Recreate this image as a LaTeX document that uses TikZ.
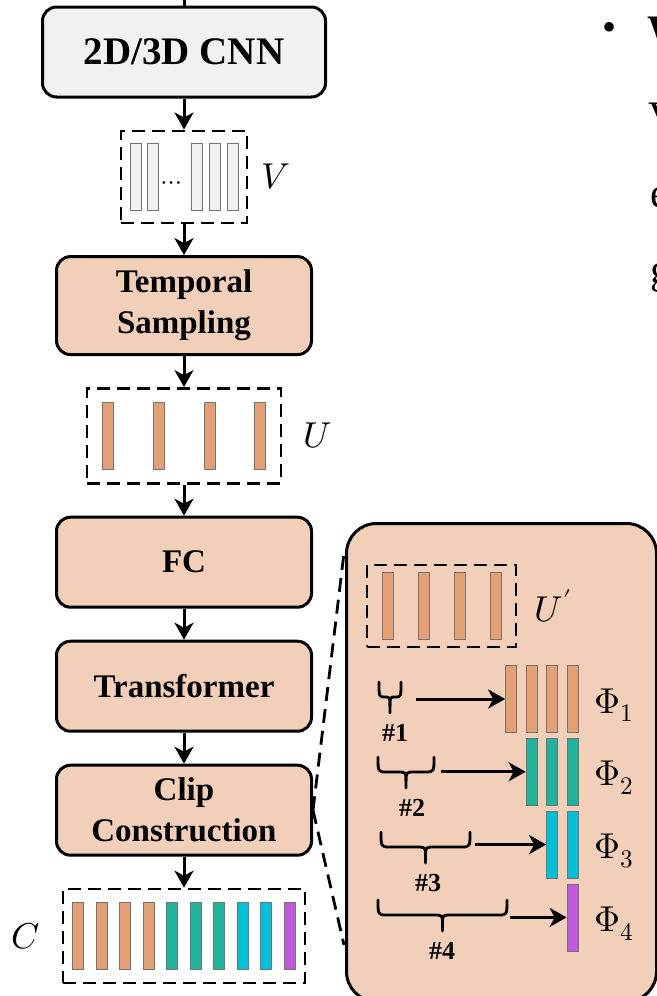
\documentclass[tikz,border=0pt]{standalone}
\usepackage{fontspec}
\usepackage{unicode-math}
\setmainfont{Liberation Serif}
\setmathfont{Latin Modern Math}
\usetikzlibrary{positioning,arrows.meta}

\definecolor{peach}{RGB}{242,207,185}
\definecolor{cnngray}{RGB}{241,241,241}
\definecolor{barorange}{RGB}{228,160,114}
\definecolor{barteal}{RGB}{30,180,155}
\definecolor{barcyan}{RGB}{0,192,218}
\definecolor{barpurple}{RGB}{192,88,220}

\tikzset{
  block/.style={draw, line width=3pt, rounded corners=14pt, fill=peach,
    minimum width=255pt, minimum height=90pt, align=center,
    font=\bfseries\fontsize{33}{41}\selectfont},
  featbox/.style={draw, line width=2.6pt, dash pattern=on 13pt off 7pt},
  bar/.style={draw=black!55, line width=0.7pt, minimum width=11pt,
    minimum height=67pt, inner sep=0pt},
  flow/.style={-{Stealth[length=17pt,width=19pt,inset=5pt]}, line width=3pt},
  zoomline/.style={line width=2.8pt, dash pattern=on 14pt off 8pt},
  bracepath/.style={line width=2.8pt, line cap=round},
  lbl/.style={font=\fontsize{36}{40}\selectfont},
  hashlbl/.style={font=\bfseries\fontsize{26}{26}\selectfont, inner sep=0pt}
}

% downward curly brace over a group of clips
\newcommand{\groupbrace}[3]{%
  \pgfmathsetmacro\bmid{(#1+#2)/2}%
  \pgfmathsetmacro\brad{min(9,(#2-#1)/4)}%
  \draw[bracepath] (#1,#3) .. controls (#1,#3+15) .. (#1+\brad,#3+15)
    -- (\bmid-\brad,#3+15) .. controls (\bmid,#3+15) .. (\bmid,#3+24) -- (\bmid,#3+31);
  \draw[bracepath] (#2,#3) .. controls (#2,#3+15) .. (#2-\brad,#3+15)
    -- (\bmid+\brad,#3+15) .. controls (\bmid,#3+15) .. (\bmid,#3+24);
}

\begin{document}
\begin{tikzpicture}[x=1pt, y=-1pt, node distance=31pt]
\useasboundingbox (0,0) rectangle (656,996);

% main pipeline
\node[block, fill=cnngray, minimum width=283pt,
  font=\bfseries\fontsize{39}{45}\selectfont] (cnn) at (184,52) {2D/3D CNN};
\node[featbox, minimum width=126pt, minimum height=92pt, below=of cnn] (vfeat) {};
\node[block, minimum height=98pt, below=of vfeat] (tsamp) {Temporal\\Sampling};
\node[featbox, minimum width=194pt, minimum height=95pt, below=of tsamp] (ufeat) {};
\node[block, below=of ufeat] (fc) {FC};
\node[block, below=of fc] (trans) {Transformer};
\node[block, below=of trans] (clip) {Clip\\Construction};
\node[featbox, minimum width=242pt, minimum height=94pt, below=of clip] (cfeat) {};

\coordinate (input) at (184,-10);
\draw[line width=3pt] (input) -- (cnn.north);
\draw[flow] (cnn.south) -- (vfeat.north);
\draw[flow] (vfeat.south) -- (tsamp.north);
\draw[flow] (tsamp.south) -- (ufeat.north);
\draw[flow] (ufeat.south) -- (fc.north);
\draw[flow] (fc.south) -- (trans.north);
\draw[flow] (trans.south) -- (clip.north);
\draw[flow] (clip.south) -- (cfeat.north);

% feature bars
\foreach \dx in {-48.5,-31.5,12.5,30.5,48.5}
  \node[bar, fill=cnngray] at ([xshift=\dx pt]vfeat.center) {};
\node[font=\fontsize{26}{26}\selectfont, inner sep=0pt] (vdots) at ([xshift=-12pt,yshift=-9pt]vfeat.center) {$\cdots$};
\foreach \dx in {-76,-25.5,25.5,76}
  \node[bar, fill=barorange] at ([xshift=\dx pt]ufeat.center) {};
\foreach \clr [count=\i from 0] in {barorange,barorange,barorange,barorange,
    barteal,barteal,barteal,barcyan,barcyan,barpurple}
  \node[bar, fill=\clr] at ([xshift={-105.75+23.5*\i}]cfeat.center) {};

\node[lbl, right=10pt of vfeat] (vlab) {$V$};
\node[lbl, right=18pt of ufeat] (ulab) {$U$};
\node[lbl, left=18pt of cfeat] (clab) {$C$};

% zoomed view of clip construction
\node[draw, line width=3pt, rounded corners=30pt, fill=peach, anchor=north west,
  minimum width=310pt, minimum height=478pt] (zoompanel) at (345,522) {};
\coordinate (ztop) at (344,553);
\coordinate (zbot) at (344,945);
\draw[zoomline] (clip.east) -- (ztop);
\draw[zoomline] (clip.east) -- (zbot);

\node[featbox, minimum width=149pt, minimum height=82pt] (upfeat) at (441.5,606) {};
\foreach \dx in {-54,-18,18,54}
  \node[bar, fill=barorange] at ([xshift=\dx pt]upfeat.center) {};
\node[lbl, right=14pt of upfeat] (uplab) {$U'$};

\foreach \row/\clr in {1/barorange,2/barteal,3/barcyan,4/barpurple} {
  \foreach \col in {\row,...,4}
    \node[bar, fill=\clr] (bar-\row-\col) at ({490.5+20.5*\col},{699+72.8*(\row-1)}) {};
  \node[lbl, anchor=base west] (phi\row) at (591,{713+72.8*(\row-1)}) {$\Phi_{\row}$};
}

\foreach \xa/\xb/\yt/\hx/\sx/\k in {379/401/682/395/416/1, 378/434/757/412/441/2,
    381/470/832/428/475/3, 378/507/900/442/510/4} {
  \groupbrace{\xa}{\xb}{\yt}
  \node[hashlbl] (hash\k) at (\hx,\yt+51) {\#\k};
  \coordinate (gap\k) at (\sx,{699+72.8*(\k-1)});
  \draw[flow] (gap\k) -- (bar-\k-\k.west);
}

% cut-off slide text on the right
\node[font=\fontsize{40}{40}\selectfont] (bullet) at (609,31) {•};
\node[anchor=base west, font=\bfseries\fontsize{42}{42}\selectfont] (txtw) at (644,44) {W};
\node[anchor=base west, font=\fontsize{42}{42}\selectfont] (txtv) at (645,130) {V};
\node[anchor=base west, font=\fontsize{42}{42}\selectfont] (txte) at (647,207) {e};
\node[anchor=base west, font=\fontsize{42}{42}\selectfont] (txtg) at (647,283) {g};
\end{tikzpicture}
\end{document}
